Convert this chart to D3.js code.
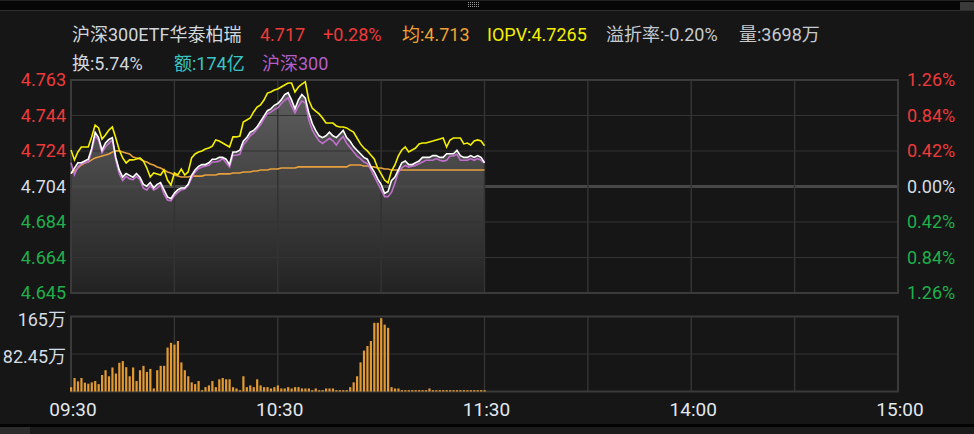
<!DOCTYPE html>
<html>
<head>
<meta charset="utf-8">
<script src="https://cdn.jsdelivr.net/npm/d3@7"></script>
<style>
html, body { margin: 0; padding: 0; background: #161616; }
svg { display: block; font-family: Roboto, "Noto Sans CJK SC", sans-serif; }
</style>
</head>
<body>
<svg id="chart" width="974" height="434"></svg>
<script>
// intraday data, one value per minute from 09:30 to 11:30 (121 points)
var prevClose = 4.7038;

var price = [
  4.711,4.714,4.717,4.717,4.718,4.719,4.725,4.734,4.731,4.724,
  4.728,4.730,4.731,4.720,4.713,4.709,4.711,4.710,4.709,4.711,
  4.709,4.705,4.704,4.706,4.703,4.705,4.706,4.702,4.698,4.697,
  4.700,4.702,4.703,4.703,4.705,4.710,4.713,4.715,4.716,4.716,
  4.717,4.719,4.719,4.720,4.720,4.719,4.716,4.723,4.723,4.724,
  4.729,4.731,4.734,4.735,4.737,4.740,4.743,4.746,4.747,4.749,
  4.750,4.752,4.755,4.756,4.752,4.747,4.752,4.755,4.753,4.745,
  4.739,4.735,4.732,4.731,4.732,4.734,4.732,4.731,4.733,4.735,
  4.731,4.729,4.726,4.724,4.722,4.720,4.719,4.715,4.712,4.708,
  4.705,4.700,4.701,4.707,4.709,4.713,4.717,4.718,4.716,4.716,
  4.717,4.718,4.720,4.720,4.720,4.721,4.721,4.720,4.720,4.722,
  4.722,4.722,4.724,4.721,4.720,4.720,4.721,4.720,4.721,4.720,
  4.717
];

var iopv = [
  4.7241,4.7186,4.7230,4.7258,4.7258,4.7258,4.7314,4.7380,4.7364,4.7302,
  4.7325,4.7352,4.7369,4.7308,4.7241,4.7197,4.7169,4.7186,4.7186,4.7191,
  4.7197,4.7180,4.7141,4.7091,4.7113,4.7108,4.7102,4.7130,4.7074,4.7046,
  4.7113,4.7102,4.7135,4.7102,4.7119,4.7197,4.7219,4.7230,4.7236,4.7247,
  4.7252,4.7263,4.7297,4.7291,4.7280,4.7269,4.7258,4.7314,4.7314,4.7319,
  4.7397,4.7408,4.7419,4.7453,4.7480,4.7492,4.7519,4.7558,4.7564,4.7575,
  4.7581,4.7592,4.7603,4.7614,4.7614,4.7564,4.7592,4.7608,4.7620,4.7519,
  4.7475,4.7458,4.7442,4.7419,4.7391,4.7391,4.7391,4.7375,4.7369,4.7369,
  4.7364,4.7352,4.7341,4.7308,4.7275,4.7252,4.7236,4.7213,4.7191,4.7141,
  4.7108,4.7074,4.7058,4.7124,4.7158,4.7208,4.7241,4.7258,4.7230,4.7241,
  4.7252,4.7275,4.7280,4.7280,4.7286,4.7291,4.7297,4.7302,4.7308,4.7258,
  4.7297,4.7308,4.7308,4.7308,4.7275,4.7280,4.7269,4.7291,4.7297,4.7291,
  4.7265
];

var avgPrice = [
  4.7113,4.7124,4.7141,4.7158,4.7169,4.7174,4.7186,4.7197,4.7202,4.7208,
  4.7213,4.7219,4.7230,4.7236,4.7236,4.7230,4.7224,4.7219,4.7202,4.7197,
  4.7191,4.7180,4.7174,4.7163,4.7158,4.7147,4.7141,4.7130,4.7119,4.7113,
  4.7102,4.7096,4.7091,4.7091,4.7091,4.7096,4.7096,4.7096,4.7096,4.7102,
  4.7102,4.7102,4.7102,4.7108,4.7108,4.7108,4.7108,4.7113,4.7113,4.7113,
  4.7119,4.7119,4.7119,4.7124,4.7124,4.7130,4.7130,4.7130,4.7135,4.7135,
  4.7135,4.7141,4.7141,4.7141,4.7141,4.7141,4.7147,4.7147,4.7147,4.7147,
  4.7147,4.7147,4.7147,4.7147,4.7147,4.7147,4.7147,4.7147,4.7147,4.7147,
  4.7147,4.7158,4.7158,4.7158,4.7158,4.7152,4.7152,4.7147,4.7147,4.7141,
  4.7141,4.7135,4.7135,4.7130,4.7130,4.7130,4.7130,4.7130,4.7130,4.7130,
  4.7130,4.7130,4.7130,4.7130,4.7130,4.7130,4.7130,4.7130,4.7130,4.7130,
  4.7130,4.7130,4.7130,4.7130,4.7130,4.7130,4.7130,4.7130,4.7130,4.7130,
  4.7130
];

// 沪深300 change in percent
var hs300Pct = [
  0.28,0.14,0.23,0.27,0.28,0.29,0.42,0.60,0.55,0.40,
  0.47,0.51,0.55,0.31,0.15,0.07,0.12,0.09,0.08,0.12,
  0.08,-0.02,-0.04,0.01,-0.04,-0.02,0.02,-0.09,-0.16,-0.17,
  -0.11,-0.07,-0.04,-0.03,0.01,0.10,0.17,0.21,0.23,0.24,
  0.25,0.29,0.29,0.30,0.33,0.28,0.23,0.37,0.37,0.38,
  0.49,0.54,0.60,0.63,0.68,0.73,0.80,0.86,0.88,0.91,
  0.93,0.98,1.02,1.05,0.95,0.87,0.95,1.01,0.99,0.79,
  0.67,0.60,0.54,0.51,0.54,0.57,0.54,0.49,0.55,0.59,
  0.51,0.46,0.41,0.36,0.33,0.29,0.27,0.20,0.12,0.04,
  -0.04,-0.12,-0.12,-0.07,0.04,0.17,0.22,0.25,0.23,0.24,
  0.25,0.27,0.29,0.31,0.31,0.31,0.33,0.31,0.30,0.31,
  0.36,0.36,0.38,0.31,0.31,0.31,0.33,0.31,0.33,0.31,
  0.28
];

// volume in 万
var volume = [
  9.6,29.7,22.3,29.7,19.4,17.2,20.1,23.0,16.3,36.3,
  46.8,33.5,52.8,39.5,63.1,66.9,53.5,33.5,52.8,23.0,
  46.8,56.4,43.0,49.7,6.7,46.8,56.4,56.4,96.6,107,
  103,111,64.0,46.8,33.5,20.1,16.3,23.0,2.9,9.6,
  13.4,23.0,9.6,26.8,29.7,26.8,26.8,9.6,6.7,2.9,
  33.5,9.6,13.4,9.6,26.8,13.4,9.6,9.6,6.7,9.6,
  13.4,6.7,6.7,9.6,6.7,9.6,9.6,6.7,6.7,6.7,
  2.9,6.7,2.9,2.9,6.7,6.7,6.7,2.9,2.9,2.9,
  2.9,9.6,20.1,33.5,64.0,89.9,100,111,151,151,
  161,147,140,9.6,6.7,6.7,2.9,2.9,2.9,2.9,
  2.9,2.9,2.9,2.9,6.7,2.9,2.9,2.9,2.9,2.9,
  2.9,2.9,2.9,2.9,2.9,2.9,2.9,2.9,2.9,2.9,
  2.9
];

var timeLabels = ['09:30', '10:30', '11:30', '14:00', '15:00'];
var timeLabelIdx = [0, 60, 120, 180, 240];
var pctTicks = [1.26, 0.84, 0.42, 0, -0.42, -0.84, -1.26];
var priceTickLabels = ['4.763', '4.744', '4.724', '4.704', '4.684', '4.664', '4.645'];
var pctTickLabels = ['1.26%', '0.84%', '0.42%', '0.00%', '0.42%', '0.84%', '1.26%'];
var volTicks = [164.9, 82.45];
var volTickLabels = ['165万', '82.45万'];

var headRow1 = ['沪深300ETF华泰柏瑞', '4.717', '+0.28%', '均:4.713', 'IOPV:4.7265', '溢折率:-0.20%', '量:3698万'];
var headRow2 = ['换:5.74%', '额:174亿', '沪深300'];

var RED = '#ee3a3a', GREEN = '#1fb04c', LIGHT = '#d5dce3';

var svg = d3.select('#chart');

// top and bottom window strips
svg.append('rect').attr('x', 0).attr('y', 0).attr('width', 974).attr('height', 10).attr('fill', '#060606');
svg.append('line').attr('x1', 0).attr('x2', 974).attr('y1', 0.5).attr('y2', 0.5).attr('stroke', '#222');
svg.append('line').attr('x1', 0).attr('x2', 974).attr('y1', 10.5).attr('y2', 10.5).attr('stroke', '#2e2e2e');
svg.append('rect').attr('x', 960).attr('y', 2).attr('width', 14).attr('height', 8).attr('fill', '#3a3a3a');
[2.5, 4.5, 6.5].forEach(function(gy) {
  svg.append('line').attr('x1', 468).attr('x2', 480).attr('y1', gy).attr('y2', gy)
     .attr('stroke', '#9a9a9a').attr('stroke-dasharray', '1,1');
});
svg.append('rect').attr('x', 0).attr('y', 424).attr('width', 974).attr('height', 10).attr('fill', '#1b1b1b');
svg.append('rect').attr('x', 0).attr('y', 424).attr('width', 974).attr('height', 3).attr('fill', '#030303');
svg.append('rect').attr('x', 0).attr('y', 427).attr('width', 30).attr('height', 7).attr('fill', '#2c2c2c');

// scales
var x = d3.scaleLinear().domain([0, 240]).range([71, 898]);
var y = d3.scaleLinear().domain([-1.26, 1.26]).range([293, 80]);
var yVol = d3.scaleLinear().domain([0, 164.9]).range([391.5, 316.5]);
function pct(p) { return (p / prevClose - 1) * 100; }

// area gradient
var defs = svg.append('defs');
var grad = defs.append('linearGradient').attr('id', 'fillGrad')
  .attr('gradientUnits', 'userSpaceOnUse').attr('x1', 0).attr('x2', 0).attr('y1', 80).attr('y2', 293);
grad.append('stop').attr('offset', '0%').attr('stop-color', '#626262');
grad.append('stop').attr('offset', '100%').attr('stop-color', '#222222');

svg.append('path')
  .datum(price)
  .attr('fill', 'url(#fillGrad)')
  .attr('d', d3.area().x(function(d, i) { return x(i); }).y0(y(-1.26)).y1(function(d) { return y(pct(d)); }));

// grid main
var grid = svg.append('g');
pctTicks.forEach(function(t) {
  grid.append('line').attr('x1', x(0)).attr('x2', x(240)).attr('y1', y(t)).attr('y2', y(t))
    .attr('stroke', t === 0 ? '#474747' : '#333').attr('stroke-width', t === 0 ? 3 : 1.2);
});
d3.range(30, 240, 30).forEach(function(t) {
  grid.append('line').attr('x1', x(t)).attr('x2', x(t)).attr('y1', y(1.26)).attr('y2', y(-1.26))
    .attr('stroke', '#333').attr('stroke-width', 1.5);
  grid.append('line').attr('x1', x(t)).attr('x2', x(t)).attr('y1', yVol(164.9)).attr('y2', yVol(0))
    .attr('stroke', '#333').attr('stroke-width', 1.5);
});
grid.append('rect').attr('x', x(0)).attr('y', y(1.26)).attr('width', x(240) - x(0)).attr('height', y(-1.26) - y(1.26))
  .attr('fill', 'none').attr('stroke', '#3a3a3a').attr('stroke-width', 2);
grid.append('line').attr('x1', x(0)).attr('x2', x(240)).attr('y1', yVol(82.45)).attr('y2', yVol(82.45))
  .attr('stroke', '#333').attr('stroke-width', 1.2);
grid.append('rect').attr('x', x(0)).attr('y', yVol(164.9)).attr('width', x(240) - x(0)).attr('height', yVol(0) - yVol(164.9))
  .attr('fill', 'none').attr('stroke', '#3a3a3a').attr('stroke-width', 2);

// lines
function lineOf(fn) {
  return d3.line().x(function(d, i) { return x(i); }).y(function(d) { return y(fn(d)); });
}
svg.append('path').datum(avgPrice).attr('fill', 'none').attr('stroke', '#e8a13e').attr('stroke-width', 1.6)
  .attr('d', lineOf(pct));
svg.append('path').datum(hs300Pct).attr('fill', 'none').attr('stroke', '#c070cc').attr('stroke-width', 1.6)
  .attr('d', lineOf(function(d) { return d; }));
svg.append('path').datum(price).attr('fill', 'none').attr('stroke', '#ffffff').attr('stroke-width', 1.6)
  .attr('d', lineOf(pct));
svg.append('path').datum(iopv).attr('fill', 'none').attr('stroke', '#f4f000').attr('stroke-width', 1.6)
  .attr('d', lineOf(pct));

// volume bars
svg.append('g').selectAll('rect').data(volume).enter().append('rect')
  .attr('x', function(d, i) { return x(i) - 1; })
  .attr('width', 2.2)
  .attr('y', function(d) { return yVol(d); })
  .attr('height', function(d) { return yVol(0) - yVol(d); })
  .attr('fill', '#e29a34');

// axis labels
var axisFont = 18;
pctTicks.forEach(function(t, i) {
  var c = t > 0 ? RED : (t < 0 ? GREEN : LIGHT);
  svg.append('text').attr('x', 66).attr('y', y(t)).attr('dy', '0.36em').attr('text-anchor', 'end')
    .attr('font-size', axisFont).attr('fill', c).text(priceTickLabels[i]);
  svg.append('text').attr('x', 907).attr('y', y(t)).attr('dy', '0.36em')
    .attr('font-size', axisFont).attr('fill', c).text(pctTickLabels[i]);
});
volTicks.forEach(function(v, i) {
  svg.append('text').attr('x', 66).attr('y', yVol(v) + 3).attr('dy', '0.36em').attr('text-anchor', 'end')
    .attr('font-size', axisFont).attr('fill', LIGHT).text(volTickLabels[i]);
});
timeLabels.forEach(function(t, i) {
  svg.append('text').attr('x', x(timeLabelIdx[i]) + 2).attr('y', 416).attr('text-anchor', 'middle')
    .attr('font-size', 19).attr('fill', '#e2e8ee').text(t);
});

// header
var row1X = [72, 260, 323, 402, 487, 606, 739];
var row1C = ['#d0d6dc', RED, RED, '#f0a232', '#f2f000', '#c6cbd0', '#c6cbd0'];
headRow1.forEach(function(t, i) {
  svg.append('text').attr('x', row1X[i]).attr('y', 41).attr('font-size', 18).attr('fill', row1C[i]).text(t);
});
var row2X = [72, 174, 262];
var row2C = ['#d0d6dc', '#36c6c6', '#b45ec8'];
headRow2.forEach(function(t, i) {
  svg.append('text').attr('x', row2X[i]).attr('y', 70).attr('font-size', 18).attr('fill', row2C[i]).text(t);
});
</script>
</body>
</html>
